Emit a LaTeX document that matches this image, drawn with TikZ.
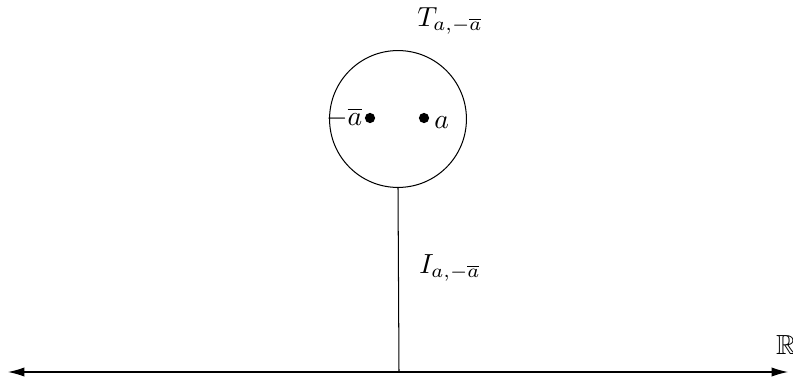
\documentclass[tikz,border=0pt]{standalone}
\usepackage{amssymb}
\usetikzlibrary{arrows.meta}
\begin{document}
\begin{tikzpicture}[x=0.01716cm,y=-0.01716cm,line width=0.5pt,
  lab/.style={scale=1.35},
  pt/.style={circle,fill=black,inner sep=0pt,minimum size=5pt}]
  \useasboundingbox (0,0) rectangle (793,376);
  % real line
  \coordinate (L) at (8,372);
  \coordinate (R) at (788,372);
  \coordinate (foot) at (399,372);
  \draw[{Latex[length=8pt,width=4.5pt]}-{Latex[length=8pt,width=4.5pt]}] (L) -- (R);
  \node[lab] (reals) at (786,345) {$\mathbb{R}$};

  % the tree: circle on a stalk
  \node[draw,circle,minimum size=2.35cm,inner sep=0pt] (T) at (398,119) {};
  \draw (T.south) -- (foot);
  \node[pt] (a) at (424,118) {};
  \node[pt] (abar) at (370,118) {};
  \node[lab,anchor=west,inner sep=1.5pt] (alab) at ([yshift=-2pt]a.east) {$a$};
  \node[lab,anchor=east,inner sep=0.5pt] (ablab) at (abar.west) {$-\overline{a}$};

  \node[lab] (Tlab) at (450,21) {$T_{a,-\overline{a}}$};
  \node[lab] (Ilab) at (450,268) {$I_{a,-\overline{a}}$};
\end{tikzpicture}
\end{document}
